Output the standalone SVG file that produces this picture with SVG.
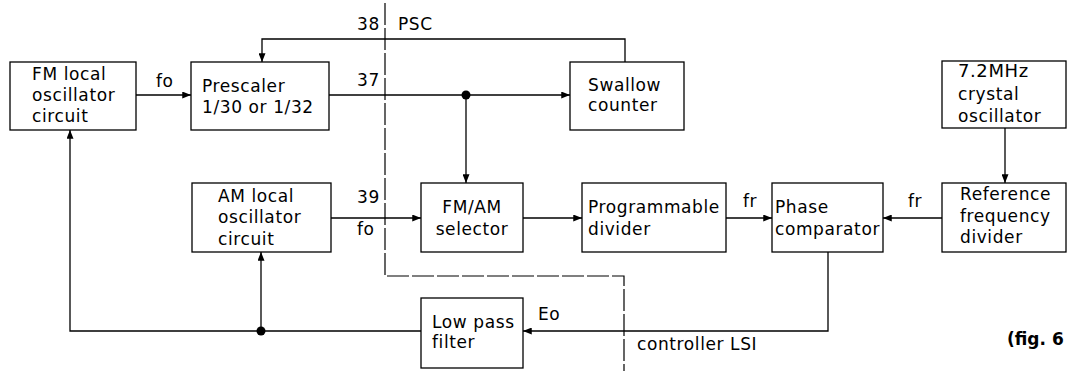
<svg xmlns="http://www.w3.org/2000/svg" width="1068" height="371" viewBox="0 0 1068 371">
<defs>
<style>
.box{fill:#fff;stroke:#000;stroke-width:1.3}
.t{font-family:"DejaVu Sans",sans-serif;font-size:17px;letter-spacing:0.6px;fill:#000}
.w{fill:none;stroke:#000;stroke-width:1.3}
.b{fill:none;stroke:#000;stroke-width:1.2;stroke-dasharray:22 3}
.dot{fill:#000}
</style>
<marker id="ah" viewBox="0 0 10 8" refX="10" refY="4" markerWidth="10" markerHeight="7" markerUnits="userSpaceOnUse" orient="auto">
<path d="M0,0 L10,4 L0,8 Z" fill="#000"/>
</marker>
</defs>
<g id="connectors">
<path class="b" d="M385,3 V276 H624 V371"/>
<path class="w" d="M136,95 H191" marker-end="url(#ah)"/>
<path class="w" d="M625,62 V39 H262 V62" marker-end="url(#ah)"/>
<path class="w" d="M329,95 H570" marker-end="url(#ah)"/>
<path class="w" d="M466,95 V183" marker-end="url(#ah)"/>
<path class="w" d="M331,218 H421" marker-end="url(#ah)"/>
<path class="w" d="M523,218 H582" marker-end="url(#ah)"/>
<path class="w" d="M726,218 H772" marker-end="url(#ah)"/>
<path class="w" d="M942,218 H883" marker-end="url(#ah)"/>
<path class="w" d="M1005,128 V183" marker-end="url(#ah)"/>
<path class="w" d="M828,252 V331 H523" marker-end="url(#ah)"/>
<path class="w" d="M421,331 H70 V130" marker-end="url(#ah)"/>
<path class="w" d="M261,331 V252" marker-end="url(#ah)"/>
<circle class="dot" cx="466" cy="95" r="4.5"/>
<circle class="dot" cx="261" cy="331" r="4.5"/>
<text class="t" x="156" y="87">fo</text>
<text class="t" x="357" y="30">38</text>
<text class="t" x="398" y="30">PSC</text>
<text class="t" x="357" y="86">37</text>
<text class="t" x="357" y="203">39</text>
<text class="t" x="357" y="235">fo</text>
<text class="t" x="743" y="207">fr</text>
<text class="t" x="908" y="207">fr</text>
<text class="t" x="538" y="320">Eo</text>
<text class="t" x="637" y="350">controller LSI</text>
<text class="t" x="1007" y="345" style="font-weight:bold;font-size:17px;letter-spacing:0">(fig. 6</text>
</g>
<g id="fm-local">
<rect class="box" x="10" y="62" width="126" height="68"/>
<text class="t" x="32" y="80">FM local</text>
<text class="t" x="32" y="101">oscillator</text>
<text class="t" x="32" y="122">circuit</text>
</g>
<g id="prescaler">
<rect class="box" x="191" y="62" width="138" height="68"/>
<text class="t" x="202" y="92">Prescaler</text>
<text class="t" x="202" y="113">1/30 or 1/32</text>
</g>
<g id="swallow">
<rect class="box" x="570" y="62" width="114" height="68"/>
<text class="t" x="588" y="91">Swallow</text>
<text class="t" x="588" y="111">counter</text>
</g>
<g id="crystal">
<rect class="box" x="942" y="61" width="124" height="67"/>
<text class="t" x="958" y="77" style="font-size:18px">7.2MHz</text>
<text class="t" x="958" y="100">crystal</text>
<text class="t" x="958" y="122">oscillator</text>
</g>
<g id="am-local">
<rect class="box" x="192" y="183" width="139" height="69"/>
<text class="t" x="218" y="202">AM local</text>
<text class="t" x="218" y="223">oscillator</text>
<text class="t" x="218" y="245">circuit</text>
</g>
<g id="selector">
<rect class="box" x="421" y="183" width="102" height="69"/>
<text class="t" x="472" y="213" text-anchor="middle">FM/AM</text>
<text class="t" x="472" y="235" text-anchor="middle">selector</text>
</g>
<g id="programmable">
<rect class="box" x="582" y="183" width="144" height="69"/>
<text class="t" x="588" y="213">Programmable</text>
<text class="t" x="588" y="235">divider</text>
</g>
<g id="phase">
<rect class="box" x="772" y="183" width="111" height="69"/>
<text class="t" x="775" y="213">Phase</text>
<text class="t" x="775" y="235">comparator</text>
</g>
<g id="reference">
<rect class="box" x="942" y="183" width="124" height="69"/>
<text class="t" x="960" y="200">Reference</text>
<text class="t" x="960" y="222">frequency</text>
<text class="t" x="960" y="243">divider</text>
</g>
<g id="lowpass">
<rect class="box" x="421" y="298" width="102" height="70"/>
<text class="t" x="432" y="328">Low pass</text>
<text class="t" x="432" y="348">filter</text>
</g>
</svg>
